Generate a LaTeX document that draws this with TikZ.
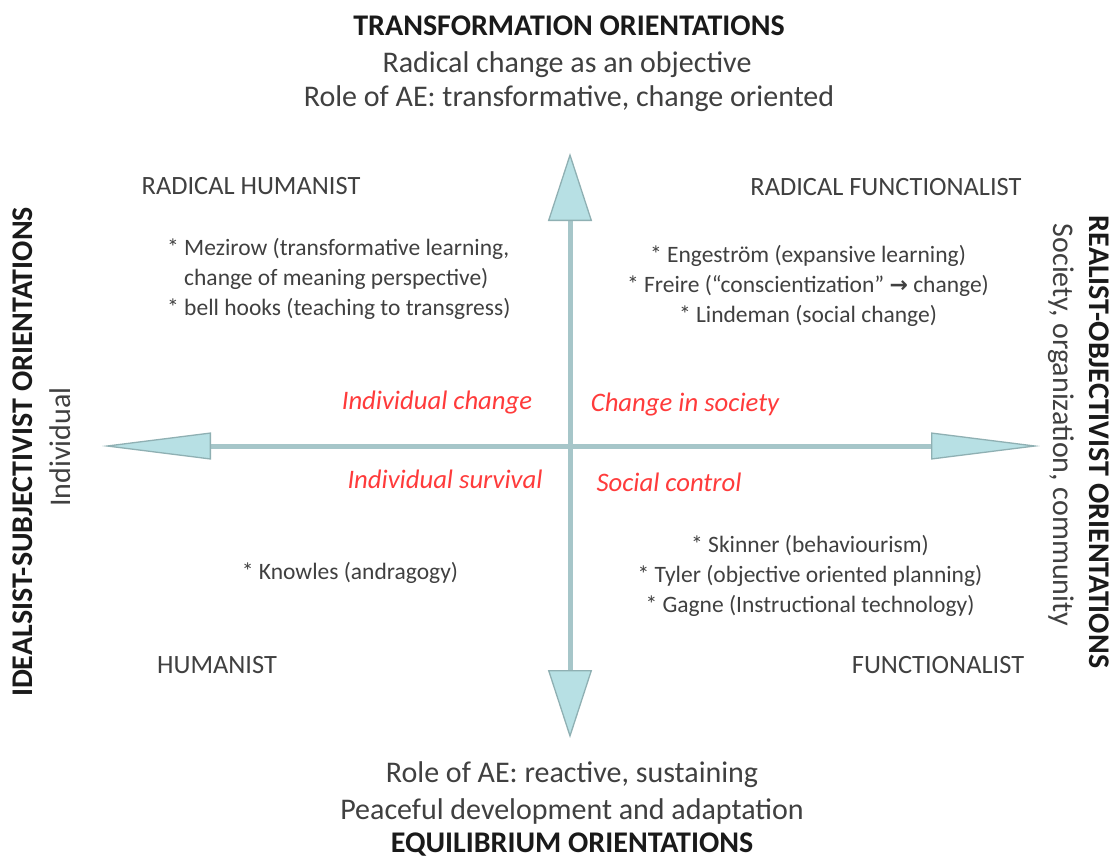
\documentclass[tikz,border=0pt]{standalone}
\usepackage{fontspec}
\setmainfont{Carlito}
\newfontfamily\symfont{DejaVu Sans}
\usetikzlibrary{arrows.meta}
\definecolor{shaft}{HTML}{A6C6C9}
\definecolor{tipfill}{HTML}{B7E0E4}
\definecolor{tipline}{HTML}{8FB0B3}
\definecolor{bodytxt}{HTML}{404040}
\definecolor{headtxt}{HTML}{1A1A1A}
\definecolor{redtxt}{HTML}{FF3B3B}
\tikzset{
  head/.style={font=\fontsize{30}{34}\selectfont\bfseries, text=headtxt, inner sep=0pt},
  sub/.style={font=\fontsize{30}{34}\selectfont, text=bodytxt, inner sep=0pt},
  quad/.style={font=\fontsize{26.4}{30}\selectfont, text=bodytxt, inner sep=0pt},
  item/.style={font=\fontsize{23.5}{30}\selectfont, text=bodytxt, inner sep=0pt, align=center},
  redlab/.style={font=\fontsize{26.7}{30}\selectfont\itshape, text=redtxt, inner sep=0pt},
  axis/.style={draw=shaft, line width=5pt},
  vtip/.tip={Triangle[length=68pt, width=44pt, fill=tipfill, color=tipline, line width=1.3pt]},
  htip/.tip={Triangle[length=109pt, width=27pt, fill=tipfill, color=tipline, line width=1.3pt]},
}
\begin{document}
\begin{tikzpicture}[x=1pt,y=-1pt]
\useasboundingbox (0,0) rectangle (1119,860);
\fill[white] (0,0) rectangle (1119,860);
% axes
\coordinate (top) at (570,153);
\coordinate (bottom) at (570,738);
\coordinate (left) at (102,446);
\coordinate (right) at (1040,446);
\draw[axis, vtip-vtip] (top) -- (bottom);
\draw[axis, htip-htip] (left) -- (right);
% top
\node[head] (ttl) at (569,26) {TRANSFORMATION ORIENTATIONS};
\node[sub] (t1) at (567,65) {Radical change as an objective};
\node[sub] (t2) at (569,99) {Role of AE: transformative, change oriented};
% bottom
\node[sub] (b1) at (572,775) {Role of AE: reactive, sustaining};
\node[sub] (b2) at (572,811) {Peaceful development and adaptation};
\node[head] (btl) at (572,845) {EQUILIBRIUM ORIENTATIONS};
% sides
\node[head, rotate=90] (ltl) at (23,452) {IDEALSIST-SUBJECTIVIST ORIENTATIONS};
\node[sub, rotate=90] (lsub) at (60,447) {Individual};
\node[head, rotate=-90] (rtl) at (1099,442) {REALIST-OBJECTIVIST ORIENTATIONS};
\node[sub, rotate=-90] (rsub) at (1061,425) {Society, organization, community};
% quadrant names
\node[quad] (rh) at (251,186) {RADICAL HUMANIST};
\node[quad] (rf) at (886,187) {RADICAL FUNCTIONALIST};
\node[quad] (hu) at (217,665) {HUMANIST};
\node[quad] (fu) at (938,665) {FUNCTIONALIST};
% items
\node[item, align=left, anchor=west] (mez) at (167,279) {* Mezirow (transformative learning,\\\hphantom{* }change of meaning perspective)\\* bell hooks (teaching to transgress)};
\node[item] (eng) at (808,286) {* Engeström (expansive learning)\\* Freire (“conscientization” {\symfont\bfseries\fontsize{22}{22}\selectfont →} change)\\* Lindeman (social change)};
\node[item] (kno) at (350,573) {* Knowles (andragogy)};
\node[item] (ski) at (810,576) {* Skinner (behaviourism)\\* Tyler (objective oriented planning)\\* Gagne (Instructional technology)};
% red labels
\node[redlab] (ic) at (437,403) {Individual change};
\node[redlab] (cs) at (685,405) {Change in society};
\node[redlab] (is) at (445,479) {Individual survival};
\node[redlab] (sc) at (669,482) {Social control};
\end{tikzpicture}
\end{document}
